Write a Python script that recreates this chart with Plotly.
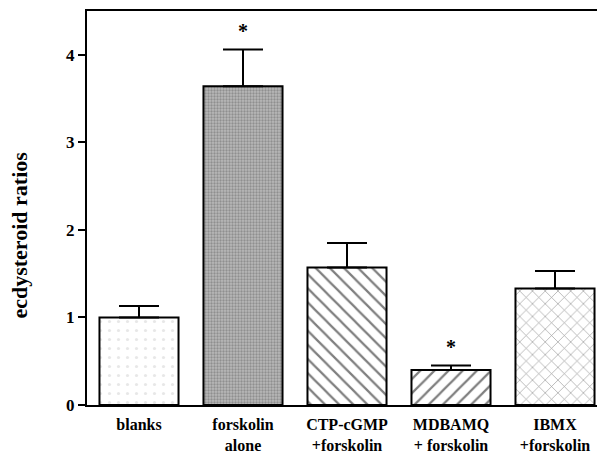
import plotly.graph_objects as go

categories = ["blanks", "forskolin<br>alone", "CTP-cGMP<br>+forskolin", "MDBAMQ<br>+ forskolin", "IBMX<br>+forskolin"]
values = [1.00, 3.64, 1.57, 0.40, 1.33]
errors = [0.13, 0.42, 0.28, 0.05, 0.20]
significant = [False, True, False, True, False]
y_ticks = [0, 1, 2, 3, 4]

shapes = [".", ".", "\\", "/", "x"]
pat_bg = ["white", "#b8b8b8", "white", "white", "white"]
pat_fg = ["#d0d0d0", "#666666", "black", "black", "#333333"]
pat_size = [9, 3, 10, 10, 9]
pat_solid = [0.1, 0.45, 0.22, 0.22, 0.14]

font = "Liberation Serif"

fig = go.Figure()
for i, v in enumerate(values):
    fig.add_trace(go.Bar(
        x=[i], y=[v], width=0.76,
        marker=dict(
            color=pat_bg[i],
            line=dict(color="black", width=2),
            pattern=dict(shape=shapes[i], bgcolor=pat_bg[i], fgcolor=pat_fg[i],
                         size=pat_size[i], solidity=pat_solid[i], fillmode="overlay"),
        ),
        error_y=dict(type="data", symmetric=False, array=[errors[i]],
                     arrayminus=[0], color="black", thickness=2, width=20),
        showlegend=False,
    ))

for i, (v, e, s) in enumerate(zip(values, errors, significant)):
    if s:
        fig.add_annotation(x=i, y=v + e, text="<b>*</b>", showarrow=False,
                           yanchor="bottom", yshift=6,
                           font=dict(family=font, size=20, color="black"))

fig.add_annotation(xref="paper", yref="paper", x=0, y=0.43, xshift=-67,
                   text="<b>ecdysteroid ratios</b>", textangle=-90,
                   showarrow=False, xanchor="center", yanchor="middle",
                   font=dict(family=font, size=22, color="black"))

fig.update_layout(
    width=605, height=456,
    margin=dict(l=79, r=6, t=1, b=59),
    paper_bgcolor="white", plot_bgcolor="white",
    barmode="overlay",
    font=dict(family=font, color="black"),
    xaxis=dict(
        range=[-0.5, 4.5],
        tickmode="array", tickvals=list(range(len(categories))),
        ticktext=["<b>%s</b>" % c.replace("<br>", "</b><br><b>") for c in categories],
        tickfont=dict(family=font, size=16, color="black"),
        showline=True, linecolor="black", linewidth=2, mirror=True,
        ticks="outside", ticklen=4, tickcolor="rgba(0,0,0,0)",
        showgrid=False, zeroline=False,
    ),
    yaxis=dict(
        range=[0, 4.5],
        tickmode="array", tickvals=y_ticks,
        ticktext=["<b>%d</b>" % t for t in y_ticks],
        tickfont=dict(family=font, size=17, color="black"),
        ticks="outside", ticklen=7, tickwidth=2, tickcolor="black",
        showline=True, linecolor="black", linewidth=2,
        showgrid=False, zeroline=False,
    ),
)

fig.write_html("out.html")
